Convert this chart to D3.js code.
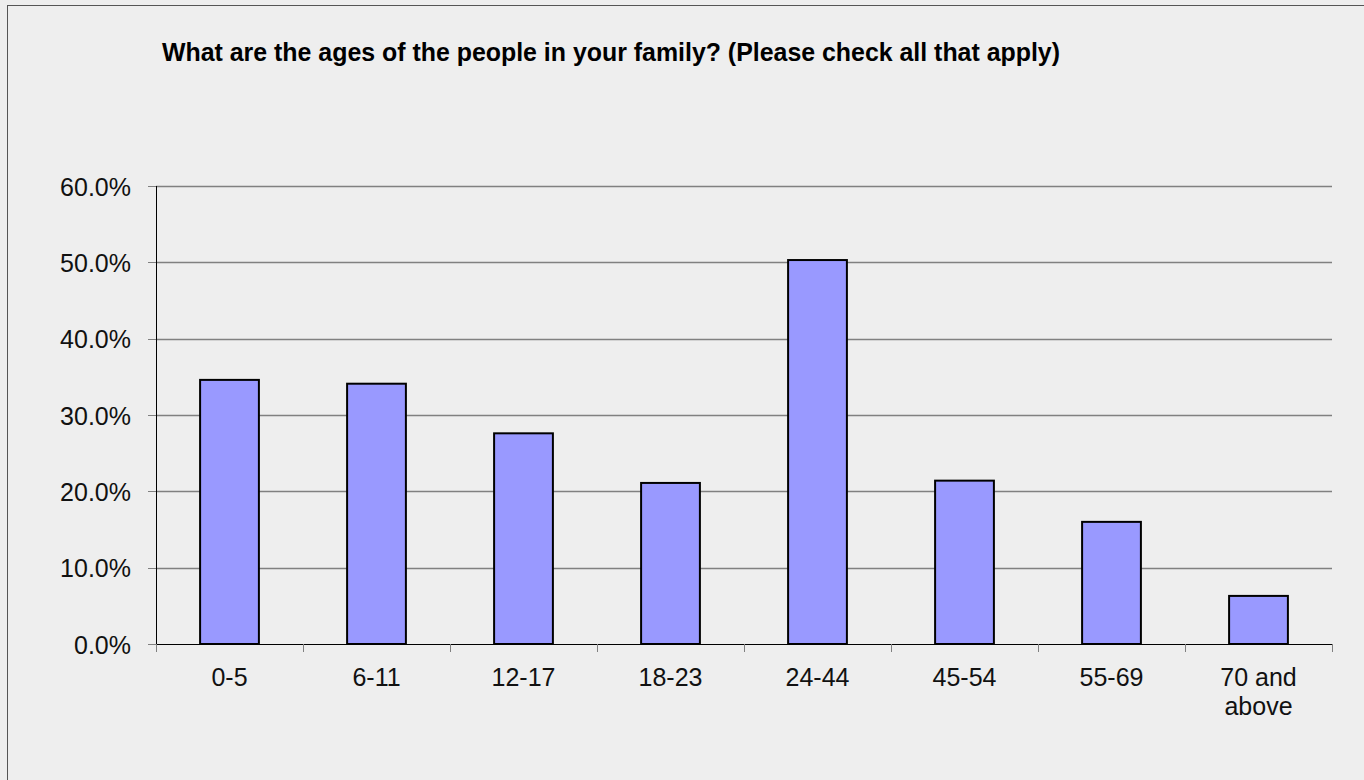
<!DOCTYPE html>
<html>
<head>
<meta charset="utf-8">
<script src="https://cdn.jsdelivr.net/npm/d3@7"></script>
<style>
  body { margin: 0; background: #eeeeee; }
  text { font-family: "Liberation Sans", Arial, sans-serif; }
</style>
</head>
<body>
<div id="chart"></div>
<script>
// data
const categories = ["0-5", "6-11", "12-17", "18-23", "24-44", "45-54", "55-69", "70 and above"];
const values = [34.6, 34.1, 27.6, 21.1, 50.3, 21.4, 16.0, 6.3];
const yTicks = [0, 10, 20, 30, 40, 50, 60];

const W = 1364, H = 780;
const margin = {top: 186, right: 32, bottom: 136, left: 156};

const svg = d3.select('#chart')
    .append('svg')
    .attr('width', W)
    .attr('height', H);

// outer frame
svg.append('rect')
    .attr('x', 7.5).attr('y', 5.5)
    .attr('width', W + 10).attr('height', H + 10)
    .attr('fill', '#eeeeee')
    .attr('stroke', '#555');

const x = d3.scaleBand()
    .domain(categories)
    .range([margin.left, W - margin.right])
    .paddingInner(0.6)
    .paddingOuter(0.3);

const xEdges = d3.scaleBand()
    .domain(categories)
    .range([margin.left, W - margin.right]);

const y = d3.scaleLinear()
    .domain([0, 60])
    .range([H - margin.bottom, margin.top]);

// gridlines
svg.append('g')
    .selectAll('line')
    .data(yTicks.filter(d => d > 0))
    .join('line')
    .attr('x1', margin.left)
    .attr('x2', W - margin.right)
    .attr('y1', d => Math.round(y(d)) + 0.5)
    .attr('y2', d => Math.round(y(d)) + 0.5)
    .attr('stroke', '#808080')
    .attr('stroke-width', 1.3);

// y ticks and labels
const yAxis = svg.append('g');
yAxis.selectAll('line')
    .data(yTicks)
    .join('line')
    .attr('x1', margin.left - 8)
    .attr('x2', margin.left)
    .attr('y1', d => Math.round(y(d)) + 0.5)
    .attr('y2', d => Math.round(y(d)) + 0.5)
    .attr('stroke', '#808080');
yAxis.selectAll('text')
    .data(yTicks)
    .join('text')
    .attr('x', margin.left - 25)
    .attr('y', d => y(d) + 9.5)
    .attr('text-anchor', 'end')
    .attr('font-size', '25px')
    .attr('fill', '#111')
    .text(d => d.toFixed(1) + '%');

// bars
svg.append('g')
    .selectAll('rect')
    .data(values)
    .join('rect')
    .attr('x', (d, i) => x(categories[i]))
    .attr('y', d => y(d))
    .attr('width', x.bandwidth())
    .attr('height', d => y(0) - y(d))
    .attr('fill', '#9999ff')
    .attr('stroke', '#000')
    .attr('stroke-width', 2);

// axis lines
svg.append('line')
    .attr('x1', margin.left + 0.5).attr('x2', margin.left + 0.5)
    .attr('y1', y(60)).attr('y2', y(0))
    .attr('stroke', '#000');
svg.append('line')
    .attr('x1', margin.left).attr('x2', W - margin.right)
    .attr('y1', Math.round(y(0)) + 0.5).attr('y2', Math.round(y(0)) + 0.5)
    .attr('stroke', '#000');

// x ticks at band edges
const edges = categories.map(c => xEdges(c)).concat([W - margin.right]);
svg.append('g')
    .selectAll('line')
    .data(edges)
    .join('line')
    .attr('x1', d => Math.round(d) + 0.5)
    .attr('x2', d => Math.round(d) + 0.5)
    .attr('y1', y(0))
    .attr('y2', y(0) + 8)
    .attr('stroke', '#808080');

// x labels (wrap long one)
const xl = svg.append('g')
    .selectAll('text')
    .data(categories)
    .join('text')
    .attr('x', d => x(d) + x.bandwidth() / 2)
    .attr('y', y(0) + 42)
    .attr('text-anchor', 'middle')
    .attr('font-size', '25px')
    .attr('fill', '#111');
xl.each(function (d) {
    const parts = d === "70 and above" ? ["70 and", "above"] : [d];
    d3.select(this).selectAll('tspan')
        .data(parts)
        .join('tspan')
        .attr('x', x(d) + x.bandwidth() / 2)
        .attr('dy', (p, i) => i === 0 ? 0 : 29)
        .text(p => p);
});

// title
svg.append('text')
    .attr('x', 162)
    .attr('y', 61)
    .attr('font-size', '25px')
    .attr('font-weight', 'bold')
    .attr('fill', '#000')
    .attr('textLength', 898)
    .attr('lengthAdjust', 'spacingAndGlyphs')
    .text("What are the ages of the people in your family? (Please check all that apply)");
</script>
</body>
</html>
